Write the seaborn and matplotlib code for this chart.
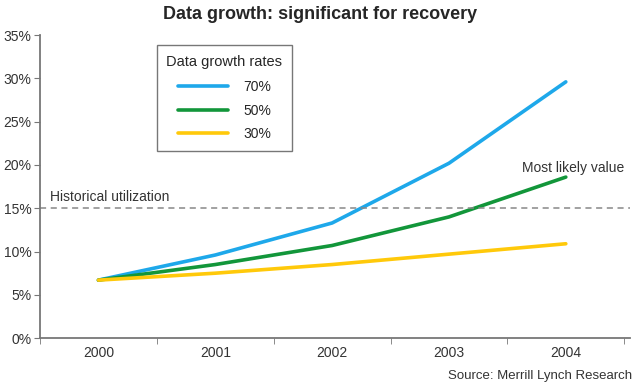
import pandas as pd
import matplotlib.pyplot as plt
import seaborn as sns

years = [2000, 2001, 2002, 2003, 2004]
growth_70 = [6.7, 9.6, 13.3, 20.2, 29.6]
growth_50 = [6.7, 8.5, 10.7, 14.0, 18.6]
growth_30 = [6.7, 7.5, 8.5, 9.7, 10.9]
rate_labels = ['70%', '50%', '30%']
historical = 15
yticks = [0, 5, 10, 15, 20, 25, 30, 35]

sns.set_style('white')
plt.rcParams['font.family'] = ['Liberation Sans Narrow', 'Liberation Sans', 'DejaVu Sans']

df = pd.DataFrame({
    'year': years * 3,
    'value': growth_70 + growth_50 + growth_30,
    'rate': [r for r in rate_labels for _ in years],
})

fig = plt.figure(figsize=(6.4, 3.9), dpi=100)
ax = fig.add_axes([0.0625, 0.133, 0.922, 0.777])

palette = {'70%': '#1ea8ea', '50%': '#12963a', '30%': '#ffc90a'}
sns.lineplot(data=df, x='year', y='value', hue='rate', palette=palette,
             linewidth=2.6, ax=ax)

ax.axhline(historical, color='#888888', linestyle=(0, (4, 3)), linewidth=1.1)
ax.text(1999.585, historical + 0.5, 'Historical utilization', fontsize=10,
        color='#333333', va='bottom')
ax.text(2004.5, 19.6, 'Most likely value', fontsize=10,
        color='#333333', ha='right', va='center')

ax.set_xlim(1999.5, 2004.55)
ax.set_ylim(0, 35)
ax.set_yticks(yticks)
ax.set_yticklabels([f'{t}%' for t in yticks])
ax.set_xticks(years)
ax.set_xticklabels([str(y) for y in years])
ax.set_xticks([y + 0.5 for y in [1999] + years], minor=True)
ax.tick_params(axis='x', which='major', length=0, pad=6, labelsize=10, colors='#333333')
ax.tick_params(axis='x', which='minor', length=4, direction='out', color='#777777', bottom=True)
ax.tick_params(axis='y', length=4, direction='out', color='#777777', left=True,
               labelsize=10, colors='#333333', pad=2)
ax.set_xlabel('')
ax.set_ylabel('')
for side in ['top', 'right']:
    ax.spines[side].set_visible(False)
for side in ['left', 'bottom']:
    ax.spines[side].set_color('#777777')
    ax.spines[side].set_linewidth(1.3)

leg = ax.legend(title='Data growth rates', loc='upper left',
                bbox_to_anchor=(0.186, 0.99), frameon=True, fancybox=False,
                fontsize=10, title_fontsize=10.5, handlelength=3.6,
                handletextpad=1.1, labelspacing=0.7, borderpad=0.7)
leg.get_frame().set_edgecolor('#555555')
leg.get_frame().set_linewidth(1.0)
leg._legend_box.align = 'center'
leg._legend_box.sep = 8

fig.suptitle('Data growth: significant for recovery', x=0.5, y=0.985,
             fontsize=13, fontweight='bold')
fig.text(0.988, 0.02, 'Source: Merrill Lynch Research', ha='right', va='bottom',
         fontsize=9.5, color='#333333')

fig.savefig('out.png', dpi=100)
